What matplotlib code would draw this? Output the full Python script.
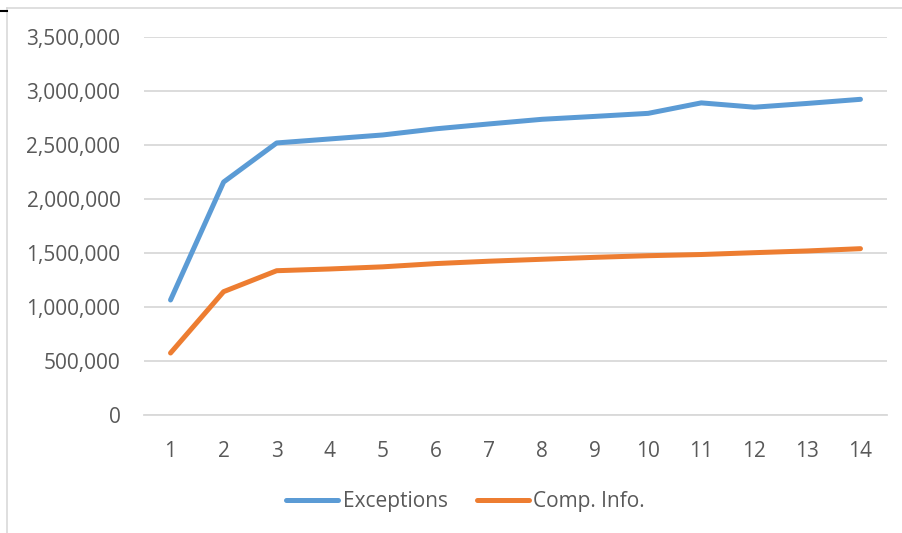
import matplotlib
matplotlib.use("Agg")
import matplotlib.pyplot as plt
from matplotlib.lines import Line2D
from matplotlib.ticker import FuncFormatter

plt.rcParams['font.family'] = ['Open Sans', 'DejaVu Sans']

runs = list(range(1, 15))
exceptions = [1065000, 2157000, 2519000, 2556000, 2593000, 2650000, 2695000,
              2738000, 2765000, 2793000, 2890000, 2850000, 2885000, 2923000]
comp_info = [574000, 1142000, 1336000, 1352000, 1372000, 1402000, 1424000,
             1442000, 1460000, 1475000, 1486000, 1503000, 1519000, 1540000]

BLUE = "#5B9BD5"
ORANGE = "#ED7D31"
TEXT = "#595959"
GRID = "#D9D9D9"

fig = plt.figure(figsize=(9.02, 5.33), dpi=100)
ax = fig.add_axes([144 / 902, 1 - 415 / 533, (887 - 144) / 902, (415 - 37) / 533])

ax.plot(runs, exceptions, color=BLUE, lw=3.6, solid_capstyle="round",
        solid_joinstyle="round", label="Exceptions", zorder=3)
ax.plot(runs, comp_info, color=ORANGE, lw=3.6, solid_capstyle="round",
        solid_joinstyle="round", label="Comp. Info.", zorder=3)

ax.set_xlim(0.5, 14.5)
ax.set_ylim(0, 3500000)
ax.set_yticks(range(0, 3500001, 500000))
ax.set_xticks(runs)
ax.yaxis.set_major_formatter(FuncFormatter(lambda v, p: f"{int(v):,}"))

ax.grid(axis="y", color=GRID, lw=1.3)
ax.set_axisbelow(True)
for side in ["top", "right", "left"]:
    ax.spines[side].set_visible(False)
ax.spines["bottom"].set_color(GRID)
ax.spines["bottom"].set_linewidth(1.3)
ax.tick_params(axis="both", length=0, labelsize=15, labelcolor=TEXT)
ax.tick_params(axis="y", pad=17)
ax.tick_params(axis="x", pad=19)

fig.legend(loc="center", bbox_to_anchor=(0.516, 1 - 502 / 533), ncol=2,
           frameon=False, fontsize=15, labelcolor=TEXT, handlelength=2.5,
           handletextpad=0.2, columnspacing=1.4)

# outer chart frame edges
fig.add_artist(Line2D([7.5 / 902, 7.5 / 902], [0, 1 - 8 / 533],
                      transform=fig.transFigure, color=GRID, lw=1.2))
fig.add_artist(Line2D([7.5 / 902, 1], [1 - 8 / 533, 1 - 8 / 533],
                      transform=fig.transFigure, color=GRID, lw=1.2))
fig.add_artist(Line2D([0, 6.5 / 902], [1 - 11 / 533, 1 - 11 / 533],
                      transform=fig.transFigure, color="black", lw=1.5))

fig.savefig("out.png", dpi=100)
